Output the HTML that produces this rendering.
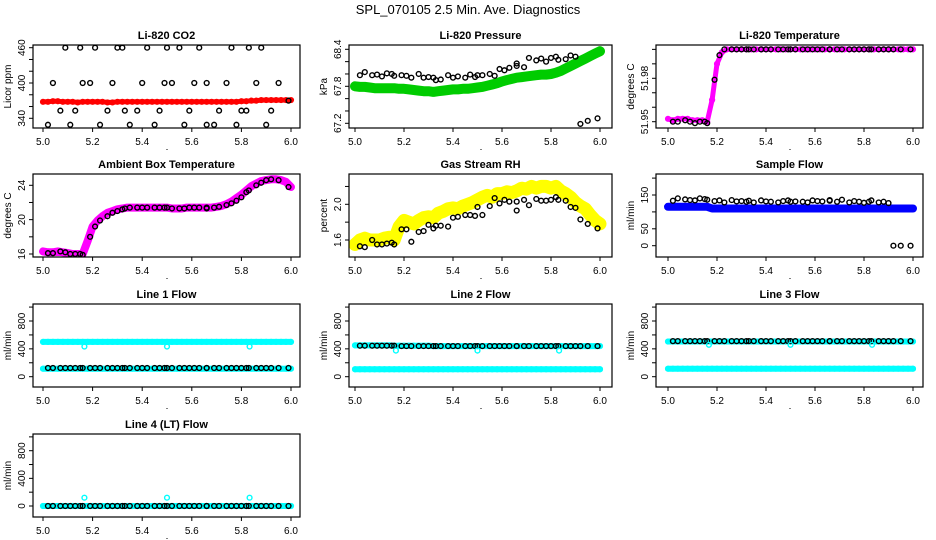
<!DOCTYPE html>
<html><head><meta charset="utf-8"><style>
body{margin:0;background:#fff}
svg{display:block;font-family:"Liberation Sans",sans-serif}
</style></head><body>
<svg id="c" width="936" height="540" viewBox="0 0 936 540">
<text x="468" y="14" text-anchor="middle" font-size="13">SPL_070105  2.5 Min. Ave. Diagnostics</text>
</svg>
<script>
const tb=[5.02,5.04,5.07,5.09,5.11,5.13,5.15,5.16,5.19,5.21,5.23,5.26,5.28,5.30,5.32,5.33,5.35,5.38,5.40,5.42,5.45,5.47,5.49,5.50,5.52,5.55,5.57,5.59,5.61,5.63,5.66,5.66,5.69,5.71,5.74,5.76,5.78,5.80,5.82,5.83,5.86,5.88,5.90,5.92,5.95,5.99];
const tc=[5.00,5.02,5.04,5.06,5.08,5.10,5.12,5.14,5.16,5.18,5.20,5.22,5.24,5.26,5.28,5.30,5.32,5.34,5.36,5.38,5.40,5.42,5.44,5.46,5.48,5.50,5.52,5.54,5.56,5.58,5.60,5.62,5.64,5.66,5.68,5.70,5.72,5.74,5.76,5.78,5.80,5.82,5.84,5.86,5.88,5.90,5.92,5.94,5.96,5.98,6.00];
const tOut=[5.167,5.5,5.833];
const xTicks=[5.0,5.2,5.4,5.6,5.8,6.0];
const xTickLabels=["5.0","5.2","5.4","5.6","5.8","6.0"];

const co2Black=[329,400,353,460,329,353,460,400,400,460,329,353,400,460,460,353,329,353,400,460,329,353,400,460,400,460,329,353,400,460,329,400,329,353,400,460,329,353,353,460,400,460,329,353,400,370];
const co2Red=[368,368,369,369,368,368,368,367,368,368,368,368,368,367,367,368,368,368,368,368,368,368,368,368,368,368,368,368,368,368,368,368,368,368,368,368,368,368,368,368,369,369,370,370,371,371,371,371,371,371,371];
const presGreen=[67.80,67.79,67.79,67.78,67.77,67.77,67.77,67.77,67.77,67.76,67.76,67.75,67.74,67.73,67.72,67.72,67.71,67.72,67.73,67.74,67.75,67.75,67.76,67.76,67.77,67.78,67.79,67.81,67.83,67.85,67.88,67.90,67.92,67.94,67.95,67.96,67.97,67.98,67.99,67.99,68.00,68.02,68.05,68.09,68.13,68.17,68.21,68.25,68.29,68.33,68.37];
const presBlack=[67.98,68.03,67.98,67.99,67.96,68.01,68.0,67.97,67.98,67.97,67.94,68.0,67.94,67.95,67.94,67.90,67.91,67.98,67.94,67.96,67.94,67.99,67.95,67.98,67.98,68.0,67.97,68.08,68.06,68.1,68.13,68.17,68.11,68.26,68.22,68.25,68.2,68.26,68.28,68.23,68.24,68.3,68.28,67.19,67.24,67.28];
const tempMag=[51.952,51.951,51.952,51.952,51.952,51.951,51.951,51.951,51.950,51.965,51.99,51.998,52.0,52.0,52.0,52.0,52.0,52.0,52.0,52.0,52.0,52.0,52.0,52.0,52.0,52.0,52.0,52.0,52.0,52.0,52.0,52.0,52.0,52.0,52.0,52.0,52.0,52.0,52.0,52.0,52.0,52.0,52.0,52.0,52.0,52.0,52.0,52.0,52.0,52.0,52.0];
const tempBlack=[51.950,51.950,51.951,51.950,51.949,51.950,51.950,51.949,51.979,51.996,52.0,52.0,52.0,52.0,52.0,52.0,52.0,52.0,52.0,52.0,52.0,52.0,52.0,52.0,52.0,52.0,52.0,52.0,52.0,52.0,52.0,52.0,52.0,52.0,52.0,52.0,52.0,52.0,52.0,52.0,52.0,52.0,52.0,52.0,52.0,52.0];
const ambMag=[16.3,16.2,16.2,16.3,16.2,16.1,16.0,16.0,16.0,17.5,19.2,19.9,20.4,20.8,21.0,21.2,21.3,21.4,21.4,21.4,21.4,21.4,21.4,21.4,21.4,21.4,21.3,21.3,21.3,21.4,21.4,21.4,21.4,21.4,21.4,21.5,21.6,21.8,22.1,22.5,22.9,23.4,23.9,24.2,24.5,24.6,24.7,24.7,24.6,24.4,23.8];
const ambBlack=[16.1,16.1,16.3,16.2,16.0,16.0,16.0,15.9,18.0,19.2,19.9,20.4,20.8,21.0,21.2,21.3,21.4,21.4,21.4,21.4,21.4,21.4,21.4,21.4,21.3,21.3,21.3,21.4,21.4,21.4,21.3,21.4,21.4,21.5,21.7,21.9,22.2,22.6,23.2,23.4,24.0,24.3,24.6,24.7,24.6,23.8];
const rhYellow=[1.55,1.6,1.62,1.6,1.6,1.6,1.62,1.63,1.6,1.75,1.82,1.8,1.78,1.82,1.85,1.86,1.85,1.9,1.92,1.95,1.96,1.95,1.98,2.0,2.02,2.05,2.08,2.1,2.08,2.12,2.12,2.14,2.13,2.15,2.18,2.17,2.2,2.18,2.2,2.2,2.18,2.2,2.15,2.12,2.08,2.02,1.98,1.95,1.88,1.82,1.78];
const rhBlack=[1.53,1.52,1.6,1.55,1.55,1.56,1.57,1.55,1.72,1.72,1.58,1.69,1.7,1.77,1.73,1.76,1.76,1.75,1.85,1.86,1.88,1.88,1.87,1.97,1.88,1.98,2.07,2.01,2.05,2.03,2.03,1.93,2.05,1.99,2.06,2.04,2.04,2.05,2.08,2.05,2.04,1.97,1.96,1.83,1.78,1.73];
const sampBlue=[115,115,115,115,115,115,115,115,115,110,110,110,110,110,110,110,110,110,110,110,110,110,110,110,110,110,110,110,110,110,110,110,110,110,110,110,110,110,110,110,110,110,110,110,110,110,110,110,110,110,110];
const sampBlack=[133,140,137,135,134,140,138,136,132,134,128,135,131,132,130,133,128,134,131,130,128,132,134,130,131,130,128,134,132,131,135,133,130,136,128,132,130,127,130,134,128,130,126,0,0,0];
const l1CyanHi=[500,500,500,500,500,500,500,500,500,500,500,500,500,500,500,500,500,500,500,500,500,500,500,500,500,500,500,500,500,500,500,500,500,500,500,500,500,500,500,500,500,500,500,500,500,500,500,500,500,500,500];
const l1CyanLo=[115,115,115,115,115,115,115,115,115,115,115,115,115,115,115,115,115,115,115,115,115,115,115,115,115,115,115,115,115,115,115,115,115,115,115,115,115,115,115,115,115,115,115,115,115,115,115,115,115,115,115];
const l1Black=[125,125,125,125,125,125,125,125,125,125,125,125,125,125,125,125,125,125,125,125,125,125,125,125,125,125,125,125,125,125,125,125,125,125,125,125,125,125,125,125,125,125,125,125,125,125];
const l1Out=[433,433,433];
const l2CyanHi=[450,450,450,450,450,450,450,450,445,445,445,445,445,445,445,445,440,440,440,440,440,440,440,440,440,440,440,440,440,440,440,440,440,440,440,440,440,440,440,440,440,440,440,440,440,440,440,440,440,440,440];
const l2CyanLo=[107,107,107,107,107,107,107,107,107,107,107,107,107,107,107,107,107,107,107,107,107,107,107,107,107,107,107,107,107,107,107,107,107,107,107,107,107,107,107,107,107,107,107,107,107,107,107,107,107,107,107];
const l2Black=[445,445,445,445,445,445,445,445,440,440,440,440,440,440,440,440,440,440,440,440,440,440,440,440,440,440,440,440,440,440,440,440,440,440,440,440,440,440,440,440,440,440,440,440,440,440];
const l2Out=[375,375,375];
const l3CyanHi=[505,505,505,505,505,505,505,505,505,505,505,505,505,505,505,505,505,505,505,505,505,505,505,505,505,505,505,505,505,505,505,505,505,505,505,505,505,505,505,505,505,505,505,505,505,505,505,505,505,505,505];
const l3CyanLo=[115,115,115,115,115,115,115,115,115,115,115,115,115,115,115,115,115,115,115,115,115,115,115,115,115,115,115,115,115,115,115,115,115,115,115,115,115,115,115,115,115,115,115,115,115,115,115,115,115,115,115];
const l3Black=[511,511,511,511,511,511,511,511,511,511,511,511,511,511,511,511,511,511,511,511,511,511,511,511,511,511,511,511,511,511,511,511,511,511,511,511,511,511,511,511,511,511,511,511,511,511];
const l3Out=[458,458,458];
const l4Cyan=[0,0,0,0,0,0,0,0,0,0,0,0,0,0,0,0,0,0,0,0,0,0,0,0,0,0,0,0,0,0,0,0,0,0,0,0,0,0,0,0,0,0,0,0,0,0,0,0,0,0,0];
const l4Black=[0,0,0,0,0,0,0,0,0,0,0,0,0,0,0,0,0,0,0,0,0,0,0,0,0,0,0,0,0,0,0,0,0,0,0,0,0,0,0,0,0,0,0,0,0,0];
const l4Out=[120,120,120];

const co2Ticks=[340,360,380,400,420,440,460], co2Labels=["340","","","400","","","460"];
const presTicks=[67.2,67.4,67.6,67.8,68.0,68.2,68.4], presLabels=["67.2","","","67.8","","","68.4"];
const tempTicks=[51.95,51.96,51.97,51.98,51.99,52.00], tempLabels=["51.95","","","51.98","",""];
const ambTicks=[16,18,20,22,24], ambLabels=["16","","20","","24"];
const rhTicks=[1.6,1.8,2.0,2.2], rhLabels=["1.6","","2.0",""];
const sampTicks=[0,50,100,150,200], sampLabels=["0","50","","150",""];
const flowTicks=[0,200,400,600,800,1000], flowLabels=["0","","400","","800",""];

const NS="http://www.w3.org/2000/svg";
const svg=document.getElementById('c');
const cols=[{L:33,R:300,x0:43,x1:291},{L:349,R:612,x0:355,x1:600},{L:656,R:923,x0:668,x1:913}];
const rows=[[45,128],[174,257],[304,387],[434,517]];
function mk(tag,attrs,parent){const e=document.createElementNS(NS,tag);for(const k in attrs)e.setAttribute(k,attrs[k]);(parent||svg).appendChild(e);return e;}

function panel(name,ci,ri,title,ylab,ref,ticks,labels,series){
  const c=cols[ci],[T,B]=rows[ri];
  const g=mk('g',{});
  
  
  const xs=v=>c.x0+(v-5)*(c.x1-c.x0);
  const ys=v=>ref[1]+(v-ref[0])*(ref[3]-ref[1])/(ref[2]-ref[0]);
  const t=mk('text',{x:(c.L+c.R)/2,y:T-6,'text-anchor':'middle','font-size':11,'font-weight':'bold'},g);t.textContent=title;
  
  
  const clip=mk('clipPath',{id:'cl'+name},g);mk('rect',{x:c.L,y:T,width:c.R-c.L,height:B-T},clip);
  const pg=mk('g',{'clip-path':'url(#cl'+name+')'},g);
  series.forEach(s=>{
    if(s.band){
      const pts=s.t.map((tt,i)=>xs(tt).toFixed(1)+','+ys(s.v[i]).toFixed(1)).join(' ');
      const pl=mk('polyline',{points:pts,fill:'none',stroke:s.color,'stroke-width':s.band,'stroke-linejoin':'round','stroke-linecap':'round'},pg);
      
      
    }
    s.t.forEach((tt,i)=>{
      const ci2=mk('circle',{cx:xs(tt),cy:ys(s.v[i]),r:2.4,fill:'none',stroke:s.color,'stroke-width':1.4},pg);
      
      
    });
  });
  mk('rect',{x:c.L,y:T,width:c.R-c.L,height:B-T,fill:'none',stroke:'#000','stroke-width':1.2},g);
  xTicks.forEach((v,i)=>{
    mk('line',{x1:xs(v),x2:xs(v),y1:B,y2:B+4,stroke:'#000'},g);
    const l=mk('text',{x:xs(v),y:B+17,'text-anchor':'middle','font-size':10},g);l.textContent=xTickLabels[i];
    
    
  });
  ticks.forEach((v,i)=>{
    const y=ys(v);
    mk('line',{x1:c.L-4,x2:c.L,y1:y,y2:y,stroke:'#000'},g);
    if(labels[i]){const l=mk('text',{x:c.L-8,y:y,'text-anchor':'middle','font-size':10,transform:`rotate(-90 ${c.L-8} ${y})`},g);l.textContent=labels[i];
      
      }
  });
  const ym=(T+B)/2;
  const yl=mk('text',{x:c.L-22,y:ym,'text-anchor':'middle','font-size':10,transform:`rotate(-90 ${c.L-22} ${ym})`},g);yl.textContent=ylab;
  
  
  mk('rect',{x:(c.L+c.R)/2,y:B+21,width:1,height:1,fill:'#000'},g);
}

panel('co2',0,0,'Li-820 CO2','Licor ppm',[340,118.3,460,47.7],co2Ticks,co2Labels,[
 {id:'red',t:tc,v:co2Red,color:'#f00',band:5},{id:'black',t:tb,v:co2Black,color:'#000'}]);
panel('pressure',1,0,'Li-820 Pressure','kPa',[67.2,123.3,68.4,49.3],presTicks,presLabels,[
 {id:'green',t:tc,v:presGreen,color:'#0c0',band:10},{id:'black',t:tb,v:presBlack,color:'#000'}]);
panel('li820-temp',2,0,'Li-820 Temperature','degrees C',[51.95,121.7,51.98,78.3],tempTicks,tempLabels,[
 {id:'magenta',t:tc,v:tempMag,color:'#f0f',band:5},{id:'black',t:tb,v:tempBlack,color:'#000'}]);
panel('ambient',0,1,'Ambient Box Temperature','degrees C',[16,254,24,185.3],ambTicks,ambLabels,[
 {id:'magenta',t:tc,v:ambMag,color:'#f0f',band:8},{id:'black',t:tb,v:ambBlack,color:'#000'}]);
panel('rh',1,1,'Gas Stream RH','percent',[1.6,240,2.0,204.3],rhTicks,rhLabels,[
 {id:'yellow',t:tc,v:rhYellow,color:'#ff0',band:13},{id:'black',t:tb,v:rhBlack,color:'#000'}]);
panel('sample-flow',2,1,'Sample Flow','ml/min',[0,245.7,150,195],sampTicks,sampLabels,[
 {id:'blue',t:tc,v:sampBlue,color:'#00f',band:8},{id:'black',t:tb,v:sampBlack,color:'#000'}]);
panel('line1',0,2,'Line 1 Flow','ml/min',[0,376.7,800,321],flowTicks,flowLabels,[
 {id:'cyan-hi',t:tc,v:l1CyanHi,color:'#0ff',band:6},{id:'cyan-lo',t:tc,v:l1CyanLo,color:'#0ff',band:6},
 {id:'black',t:tb,v:l1Black,color:'#000'},{id:'outlier',t:tOut,v:l1Out,color:'#0ff'}]);
panel('line2',1,2,'Line 2 Flow','ml/min',[0,376.7,800,321],flowTicks,flowLabels,[
 {id:'cyan-hi',t:tc,v:l2CyanHi,color:'#0ff',band:6},{id:'cyan-lo',t:tc,v:l2CyanLo,color:'#0ff',band:6},
 {id:'black',t:tb,v:l2Black,color:'#000'},{id:'outlier',t:tOut,v:l2Out,color:'#0ff'}]);
panel('line3',2,2,'Line 3 Flow','ml/min',[0,376.7,800,321],flowTicks,flowLabels,[
 {id:'cyan-hi',t:tc,v:l3CyanHi,color:'#0ff',band:6},{id:'cyan-lo',t:tc,v:l3CyanLo,color:'#0ff',band:6},
 {id:'black',t:tb,v:l3Black,color:'#000'},{id:'outlier',t:tOut,v:l3Out,color:'#0ff'}]);
panel('line4',0,3,'Line 4 (LT) Flow','ml/min',[0,506,800,450.7],flowTicks,flowLabels,[
 {id:'cyan',t:tc,v:l4Cyan,color:'#0ff',band:6},
 {id:'black',t:tb,v:l4Black,color:'#000'},{id:'outlier',t:tOut,v:l4Out,color:'#0ff'}]);
</script>
</body></html>
